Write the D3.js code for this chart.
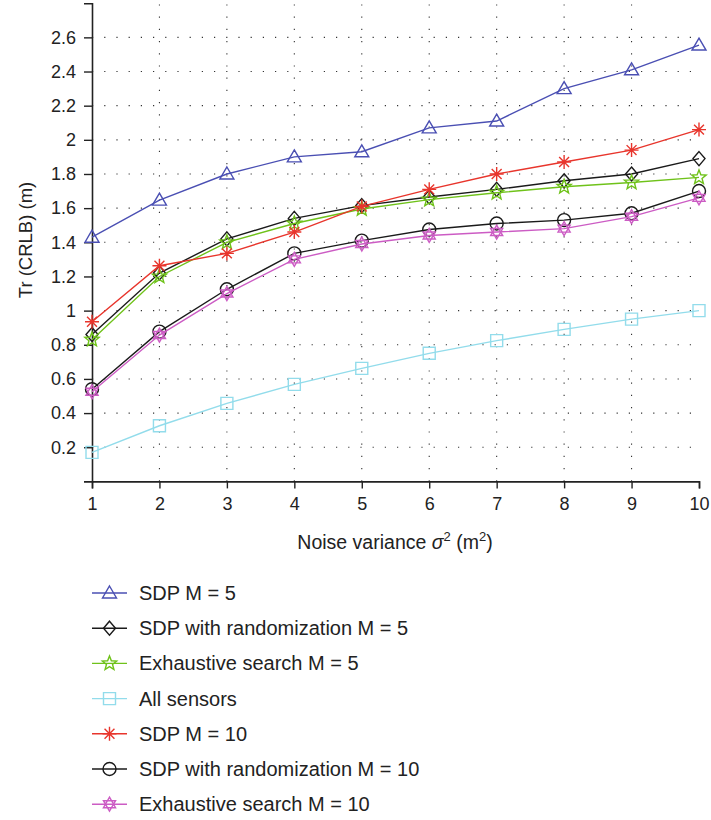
<!DOCTYPE html>
<html><head><meta charset="utf-8">
<script src="https://cdn.jsdelivr.net/npm/d3@7"></script>
<style>
html,body{margin:0;padding:0;background:#fff;}
text{fill:#222;font-family:"Liberation Sans",Arial,sans-serif;}
</style></head>
<body><svg id="c" width="711" height="820"></svg>
<script>
const xValues = [1,2,3,4,5,6,7,8,9,10];
const xTicks = [1,2,3,4,5,6,7,8,9,10];
const yTicks = [0.2,0.4,0.6,0.8,1,1.2,1.4,1.6,1.8,2,2.2,2.4,2.6];
const sdpM5      = [1.43,1.647,1.80,1.90,1.93,2.07,2.11,2.30,2.41,2.555];
const sdpRandM5  = [0.86,1.22,1.42,1.54,1.615,1.665,1.71,1.76,1.80,1.89];
const exhM5      = [0.83,1.20,1.40,1.51,1.595,1.65,1.69,1.725,1.75,1.78];
const allSensors = [0.17,0.326,0.457,0.568,0.662,0.75,0.824,0.89,0.95,1.0];
const sdpM10     = [0.935,1.263,1.335,1.46,1.61,1.71,1.80,1.87,1.94,2.06];
const sdpRandM10 = [0.54,0.877,1.125,1.335,1.41,1.475,1.51,1.53,1.57,1.70];
const exhM10     = [0.525,0.857,1.10,1.30,1.39,1.44,1.46,1.48,1.55,1.66];
const seriesNames = ["SDP M = 5","SDP with randomization M = 5","Exhaustive search M = 5","All sensors","SDP M = 10","SDP with randomization M = 10","Exhaustive search M = 10"];

const series = [
  {name:seriesNames[0], vals:sdpM5, color:"#4a4fb3", marker:"triangle"},
  {name:seriesNames[1], vals:sdpRandM5, color:"#1a1a1a", marker:"diamond"},
  {name:seriesNames[2], vals:exhM5, color:"#6fc21a", marker:"star5"},
  {name:seriesNames[3], vals:allSensors, color:"#92dceb", marker:"square"},
  {name:seriesNames[4], vals:sdpM10, color:"#e8352c", marker:"asterisk"},
  {name:seriesNames[5], vals:sdpRandM10, color:"#1a1a1a", marker:"circle"},
  {name:seriesNames[6], vals:exhM10, color:"#cc5cc4", marker:"hexagram"}
];

const svg = d3.select("#c");
const x = d3.scaleLinear().domain([1,10]).range([92,699]);
const y = d3.scaleLinear().domain([0,2.8]).range([481.4,3.2]);

const grid = svg.append("g");
grid.selectAll("line.h").data(yTicks).join("line")
  .attr("x1",x(1)).attr("x2",x(10)).attr("y1",d=>y(d)).attr("y2",d=>y(d))
  .attr("stroke","#333").attr("stroke-width",1.1).attr("stroke-dasharray","1.2,11");
grid.selectAll("line.v").data(xTicks.slice(1,-1)).join("line")
  .attr("x1",d=>x(d)).attr("x2",d=>x(d)).attr("y1",y(0)).attr("y2",y(2.8))
  .attr("stroke","#333").attr("stroke-width",1.1).attr("stroke-dasharray","1.2,11");

const xAxis = d3.axisBottom(x).tickValues(xTicks).tickSize(7).tickPadding(9).tickFormat(d3.format("d"));
const gx = svg.append("g").attr("transform",`translate(0,${y(0)})`).call(xAxis);
const yAxis = d3.axisLeft(y).tickValues(yTicks).tickSize(8).tickPadding(8).tickFormat(d=>d3.format("")(d));
const gy = svg.append("g").attr("transform",`translate(${x(1)},0)`).call(yAxis);
[gx,gy].forEach(g=>{
  g.attr("font-family",null).attr("font-size",18);
  g.select(".domain").attr("stroke","#222").attr("stroke-width",1.6);
  g.selectAll(".tick line").attr("stroke","#222").attr("stroke-width",1.4);
  g.selectAll(".tick text").attr("fill","#222");
});

svg.append("text").attr("x",395).attr("y",549).attr("text-anchor","middle").attr("font-size",19.5)
  .html('Noise variance <tspan font-style="italic">σ</tspan><tspan font-size="13" dy="-8">2</tspan><tspan dy="8"> (m</tspan><tspan font-size="13" dy="-8">2</tspan><tspan dy="8">)</tspan>');
svg.append("text").attr("transform","translate(32,240) rotate(-90)").attr("text-anchor","middle")
  .attr("font-size",18.5).text("Tr (CRLB) (m)");

function markerPath(type){
  const p = d3.path();
  if(type==="triangle"){ p.moveTo(0,-7); p.lineTo(7,5); p.lineTo(-7,5); p.closePath(); }
  else if(type==="diamond"){ p.moveTo(0,-7); p.lineTo(6,0); p.lineTo(0,7); p.lineTo(-6,0); p.closePath(); }
  else if(type==="square"){ p.rect(-6,-6,12,12); }
  else if(type==="circle"){ p.moveTo(6.5,0); p.arc(0,0,6.5,0,2*Math.PI); }
  else if(type==="asterisk"){
    for(let i=0;i<4;i++){const a=i*Math.PI/4; p.moveTo(-7*Math.cos(a),-7*Math.sin(a)); p.lineTo(7*Math.cos(a),7*Math.sin(a));}
  }
  else if(type==="star5"){
    for(let i=0;i<10;i++){const r=i%2?3.2:7.5; const a=-Math.PI/2+i*Math.PI/5; const px=r*Math.cos(a), py=r*Math.sin(a); i?p.lineTo(px,py):p.moveTo(px,py);} p.closePath();
  }
  else if(type==="hexagram"){
    for(let t=0;t<2;t++){ for(let i=0;i<3;i++){const a=-Math.PI/2+t*Math.PI+i*2*Math.PI/3; const px=7*Math.cos(a), py=7*Math.sin(a); i?p.lineTo(px,py):p.moveTo(px,py);} p.closePath(); }
  }
  return p.toString();
}

const line = d3.line().x((d,i)=>x(xValues[i])).y(d=>y(d));
const plot = svg.append("g");
series.forEach(s=>{
  const g = plot.append("g");
  g.append("path").attr("d",line(s.vals)).attr("fill","none").attr("stroke",s.color).attr("stroke-width",1.4);
  g.selectAll("path.m").data(s.vals).join("path").attr("class","m")
    .attr("d",markerPath(s.marker)).attr("transform",(d,i)=>`translate(${x(xValues[i])},${y(d)})`)
    .attr("fill","none").attr("stroke",s.color).attr("stroke-width",1.4);
});

const leg = svg.append("g");
series.forEach((s,i)=>{
  const cy = 593 + i*35.2;
  leg.append("line").attr("x1",92).attr("x2",127).attr("y1",cy).attr("y2",cy).attr("stroke",s.color).attr("stroke-width",1.4);
  leg.append("path").attr("d",markerPath(s.marker)).attr("transform",`translate(109.5,${cy})`)
    .attr("fill","none").attr("stroke",s.color).attr("stroke-width",1.4);
  leg.append("text").attr("x",139).attr("y",cy+7).attr("font-size",20).text(s.name);
});
</script></body></html>
